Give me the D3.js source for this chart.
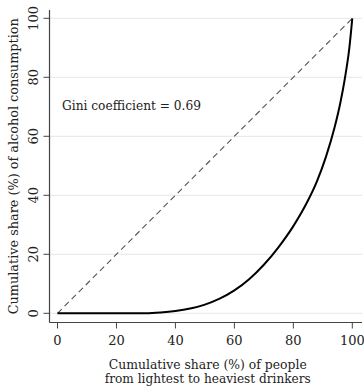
<!DOCTYPE html>
<html>
<head>
<meta charset="utf-8">
<script src="https://cdn.jsdelivr.net/npm/d3@7"></script>
<style>
	body { margin: 0; background: #fff; }
	svg text { font-family: "DejaVu Serif", "Liberation Serif", serif; fill: #222; }
	.grid line { stroke: #e6e6e6; stroke-width: 1; }
	.axis-line { stroke: #444; stroke-width: 1.2; }
	.tick-mark { stroke: #444; stroke-width: 1; }
</style>
</head>
<body>
<svg width="364" height="387"></svg>
<script>
// cumulative share of people (%)
var peopleShare = [0, 30, 35, 40, 45, 50, 55, 60, 65, 70, 75, 80, 85, 88, 91, 94, 96, 97.5, 99, 100];
// cumulative share of alcohol consumption (%)
var alcoholShare = [0, 0, 0.25, 0.75, 1.6, 2.95, 4.95, 7.75, 11.55, 16.45, 22.45, 29.55, 38.3, 44.75, 52.85, 63.05, 71.65, 79.75, 89.95, 100];
var tickValues = [0, 20, 40, 60, 80, 100];
var giniLabel = 'Gini coefficient = 0.69';
var xTitle = ['Cumulative share (%) of people', 'from lightest to heaviest drinkers'];
var yTitle = 'Cumulative share (%) of alcohol consumption';

function LorenzView(){

}

LorenzView.prototype.render = function(options){
	this.options = options;
	this.svg = d3.select('svg');
	this.x = d3.scaleLinear().domain([0, 100]).range([options.x0, options.x1]);
	this.y = d3.scaleLinear().domain([0, 100]).range([options.y0, options.y1]);

	this.addGrid();
	this.addAxes();
	this.addLines();
	this.addTitles();
}

LorenzView.prototype.addGrid = function(){
	var o = this.options, y = this.y;
	this.svg.append('g').attr('class', 'grid')
		.selectAll('line').data(tickValues).enter()
		.append('line')
		.attr('x1', o.axisX).attr('x2', o.right)
		.attr('y1', function(d){ return y(d); })
		.attr('y2', function(d){ return y(d); });
}

LorenzView.prototype.addAxes = function(){
	var o = this.options, x = this.x, y = this.y;
	var g = this.svg.append('g');

	g.append('line').attr('class', 'axis-line')
		.attr('x1', o.axisX).attr('x2', o.axisX)
		.attr('y1', o.top).attr('y2', o.axisY);
	g.append('line').attr('class', 'axis-line')
		.attr('x1', o.axisX).attr('x2', o.right)
		.attr('y1', o.axisY).attr('y2', o.axisY);

	// y ticks with rotated labels, x ticks below
	tickValues.forEach(function(d){
		g.append('line').attr('class', 'tick-mark')
			.attr('x1', o.axisX - 6).attr('x2', o.axisX)
			.attr('y1', y(d)).attr('y2', y(d));
		g.append('text')
			.attr('transform', 'translate(' + (o.axisX - 12) + ',' + y(d) + ') rotate(-90)')
			.attr('text-anchor', 'middle')
			.style('font-size', '13px')
			.text(d);
		g.append('line').attr('class', 'tick-mark')
			.attr('x1', x(d)).attr('x2', x(d))
			.attr('y1', o.axisY).attr('y2', o.axisY + 6);
		g.append('text')
			.attr('x', x(d)).attr('y', o.axisY + 22)
			.attr('text-anchor', 'middle')
			.style('font-size', '13px')
			.text(d);
	});
}

LorenzView.prototype.addLines = function(){
	var x = this.x, y = this.y;
	var g = this.svg.append('g');

	g.append('line')
		.attr('x1', x(0)).attr('y1', y(0))
		.attr('x2', x(100)).attr('y2', y(100))
		.attr('stroke', '#555').attr('stroke-width', 1.1)
		.attr('stroke-dasharray', '6,4');

	var line = d3.line()
		.x(function(d){ return x(d[0]); })
		.y(function(d){ return y(d[1]); })
		.curve(d3.curveMonotoneX);

	g.append('path')
		.datum(d3.zip(peopleShare, alcoholShare))
		.attr('d', line)
		.attr('fill', 'none')
		.attr('stroke', '#000')
		.attr('stroke-width', 2);
}

LorenzView.prototype.addTitles = function(){
	var o = this.options;
	var midX = (o.axisX + o.right) / 2 + 2;
	var midY = (o.top + o.axisY) / 2;

	this.svg.append('text')
		.attr('x', 62).attr('y', 110)
		.style('font-size', '12.5px')
		.attr('textLength', 139).attr('lengthAdjust', 'spacingAndGlyphs')
		.text(giniLabel);

	this.svg.append('text')
		.attr('transform', 'translate(18,' + midY + ') rotate(-90)')
		.attr('text-anchor', 'middle')
		.style('font-size', '12.5px')
		.attr('textLength', 296).attr('lengthAdjust', 'spacingAndGlyphs')
		.text(yTitle);

	this.svg.append('text')
		.attr('x', midX).attr('y', 369)
		.attr('text-anchor', 'middle')
		.style('font-size', '12px')
		.attr('textLength', 198).attr('lengthAdjust', 'spacingAndGlyphs')
		.text(xTitle[0]);
	this.svg.append('text')
		.attr('x', midX).attr('y', 383)
		.attr('text-anchor', 'middle')
		.style('font-size', '12px')
		.attr('textLength', 206).attr('lengthAdjust', 'spacingAndGlyphs')
		.text(xTitle[1]);
}

new LorenzView().render({
	x0 : 57.5, x1 : 352.3,
	y0 : 313.3, y1 : 18.3,
	axisX : 49.5, axisY : 322.5,
	top : 10, right : 362
});
</script>
</body>
</html>
